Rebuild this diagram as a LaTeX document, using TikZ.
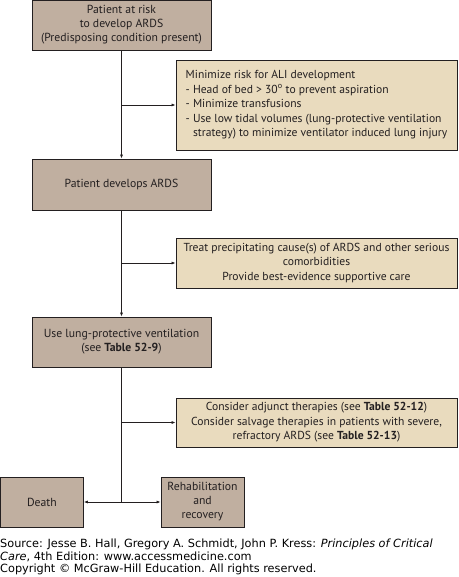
\documentclass[tikz,border=0pt]{standalone}
\usepackage{fontspec}
\setmainfont{PT Sans}
\newfontfamily\srcfont{DejaVu Sans}
\usepackage{xcolor}
\usetikzlibrary{arrows.meta, positioning}

\definecolor{darktan}{RGB}{192,175,160}
\definecolor{lighttan}{RGB}{233,219,190}
\definecolor{inkgray}{RGB}{35,31,32}

\begin{document}
\begin{tikzpicture}[x=1pt, y=-1pt,
    darkbox/.style={draw=inkgray, line width=0.8pt, fill=darktan, inner sep=0pt, align=center, text=inkgray, font=\fontsize{11.7}{14}\selectfont},
    lightbox/.style={draw=inkgray, line width=0.8pt, fill=lighttan, inner sep=0pt, align=center, text=inkgray, font=\fontsize{11.6}{14.5}\selectfont, minimum width=281pt},
    edge/.style={-{Latex[length=4pt, width=3pt]}, draw=inkgray, line width=0.7pt}
]
    \useasboundingbox (0,0) rectangle (458,577);

    \node[darkbox, minimum width=179pt, minimum height=50pt] (risk) at (121.5,25) {Patient at risk\\to develop ARDS\\(Predisposing condition present)};
    \node[lightbox, minimum height=90pt, align=left] (minimize) at (316.5,105) {Minimize risk for ALI development\\- Head of bed > 30\textsuperscript{o} to prevent aspiration\\- Minimize transfusions\\- Use low tidal volumes (lung-protective ventilation\\\phantom{- }strategy) to minimize ventilator induced lung injury};
    \node[darkbox, minimum width=179pt, minimum height=51pt] (develops) at (121.5,184.5) {Patient develops ARDS};
    \node[lightbox, minimum height=50pt] (treat) at (316.5,263) {Treat precipitating cause(s) of ARDS and other serious\\comorbidities\\Provide best-evidence supportive care};
    \node[darkbox, minimum width=179pt, minimum height=50pt] (lungprot) at (121.5,342) {Use lung-protective ventilation\\(see \textbf{Table 52-9})};
    \node[lightbox, minimum height=49pt] (adjunct) at (316.5,422.5) {Consider adjunct therapies (see \textbf{Table 52-12})\\Consider salvage therapies in patients with severe,\\refractory ARDS (see \textbf{Table 52-13})};
    \node[darkbox, minimum width=83pt, minimum height=50pt] (death) at (41.9,502) {Death};
    \node[darkbox, minimum width=83pt, minimum height=50pt] (rehab) at (202.5,502) {Rehabilitation\\and\\recovery};

    \draw[edge] (risk) -- (develops);
    \draw[edge] (risk.south |- minimize.west) -- (minimize.west);
    \draw[edge] (develops) -- (lungprot);
    \draw[edge] (develops.south |- treat.west) -- (treat.west);
    \draw[draw=inkgray, line width=0.7pt] (lungprot.south) -- (lungprot.south |- death.east) coordinate (split);
    \draw[edge] (lungprot.south |- adjunct.west) -- (adjunct.west);
    \draw[edge] (split) -- (death);
    \draw[edge] (split) -- (rehab);

    % Source line
    \node[anchor=north west, inner sep=0pt, align=left, font=\srcfont\fontsize{11.3}{12.5}\selectfont] (source) at (0,539) {Source: Jesse B. Hall, Gregory A. Schmidt, John P. Kress: \textit{Principles of Critical}\\\textit{Care}, 4th Edition: www.accessmedicine.com\\Copyright © McGraw-Hill Education. All rights reserved.};
\end{tikzpicture}
\end{document}
